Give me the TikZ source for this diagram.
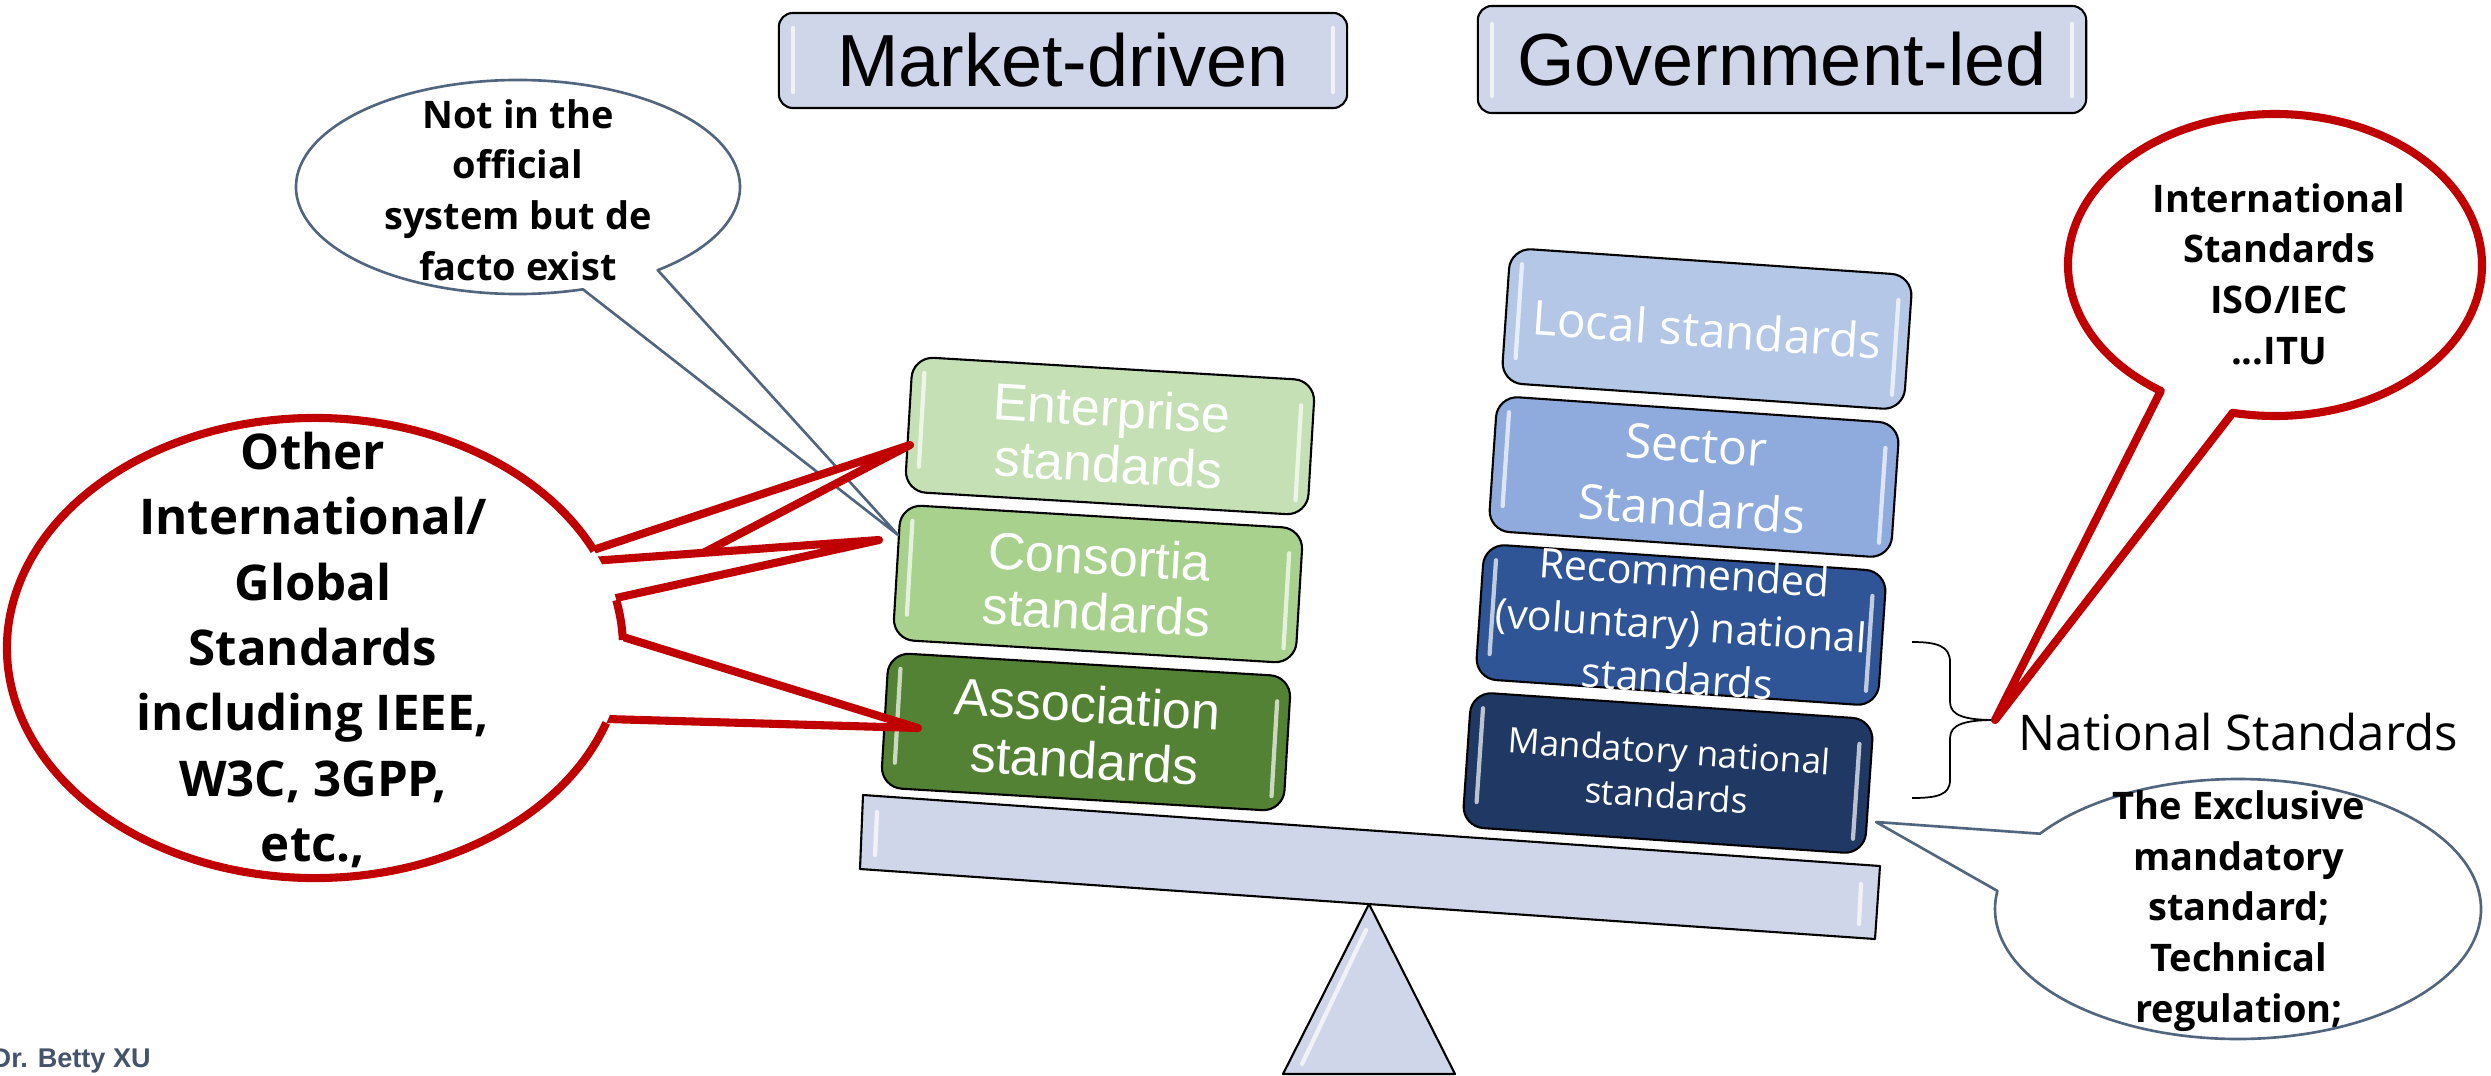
\documentclass[tikz,border=0pt]{standalone}
\usepackage{fontspec}
\setmainfont{Liberation Sans}
\newfontfamily\osans{Open Sans}
\definecolor{lav}{HTML}{D0D6EA}
\definecolor{entg}{HTML}{C5E0B4}
\definecolor{cong}{HTML}{A9D18E}
\definecolor{assg}{HTML}{548235}
\definecolor{locb}{HTML}{B4C7E7}
\definecolor{secb}{HTML}{8FAADC}
\definecolor{recb}{HTML}{2F5597}
\definecolor{manb}{HTML}{203864}
\definecolor{calred}{HTML}{C00000}
\definecolor{slate}{HTML}{52657F}
\definecolor{drtext}{HTML}{44546A}
\tikzset{
  stackbox/.style={draw=black, line width=0.6pt, rounded corners=6pt, minimum width=4.03cm, minimum height=1.35cm, inner sep=0pt},
  hdrbox/.style={draw=black, line width=0.6pt, fill=lav, rounded corners=4pt, inner sep=0pt, font=\fontsize{21}{24}\selectfont},
  gloss/.style={white, line width=1.2pt, line cap=round, opacity=0.7},
  boxtext/.style={text=white, align=center, inner sep=0pt},
  redline/.style={draw=calred, line width=2.3pt, line join=round},
  redco/.style={redline, fill=white},
  grayco/.style={draw=slate, line width=0.75pt, fill=white, line join=round},
  cotext/.style={align=center, inner sep=0pt, font=\osans\bfseries\fontsize{10.8}{14.4}\selectfont},
}
\newcommand\stackitem[7]{%
  \begin{scope}[shift={(#2,#3)}, rotate=#4, transform shape]
    \node[stackbox, fill=#5] (#1) at (0,0) {};
    \draw[gloss] (-189,-52) -- (-189,42);
    \draw[gloss] (189,-42) -- (189,53);
    \node[boxtext, font={#6}] (#1-t) at (0,0) {#7};
  \end{scope}}
\begin{document}
\begin{tikzpicture}[x=0.01cm, y=-0.01cm]
\useasboundingbox (0,0) rectangle (2491,1076);

% header boxes
\node[hdrbox, minimum width=5.68cm, minimum height=0.95cm] (mkt) at (1063,60.5) {Market-driven};
\node[hdrbox, minimum width=6.08cm, minimum height=1.07cm] (gov) at (1782,59.5) {Government-led};
\draw[gloss] (793,28) -- (793,92);
\draw[gloss] (1333,28) -- (1333,92);
\draw[gloss] (1492,24) -- (1492,96);
\draw[gloss] (2072,24) -- (2072,96);

% beam and fulcrum
\draw[line width=0.6pt, fill=lav, line join=round] (863,795) -- (1880,866) -- (1875,939) -- (860,869) -- cycle;
\draw[gloss] (877,812) -- (875,855);
\draw[gloss] (1861,884) -- (1859,924);
\draw[line width=0.6pt, fill=lav, line join=round] (1369,904) -- (1455,1074) -- (1283,1074) -- cycle;
\draw[gloss] (1366,930) -- (1302,1064);

% stacks
\stackitem{ent}{1110}{436}{-3.4}{entg}{\fontsize{14.8}{15.9}\selectfont}{Enterprise\\standards}
\stackitem{con}{1098}{584}{-3.4}{cong}{\fontsize{14.8}{15.9}\selectfont}{Consortia\\standards}
\stackitem{ass}{1086}{732}{-3.4}{assg}{\fontsize{14.8}{15.9}\selectfont}{Association\\standards}
\stackitem{loc}{1707}{329}{-3.9}{locb}{\osans\fontsize{13.6}{18}\selectfont}{Local standards}
\stackitem{sec}{1694}{477}{-3.9}{secb}{\osans\fontsize{13.7}{18.2}\selectfont}{Sector\\Standards}
\stackitem{rec}{1681}{625}{-3.9}{recb}{\osans\fontsize{11.7}{15.1}\selectfont}{Recommended\\(voluntary) national\\standards}
\stackitem{man}{1668}{773}{-3.9}{manb}{\osans\fontsize{10}{12.7}\selectfont}{Mandatory national\\standards}

% brace and label
\draw[line width=0.5pt] (1912,642) .. controls (1937,642) and (1950,646) .. (1950,662) -- (1950,702)
  .. controls (1950,716) and (1966,720) .. (1995,720)
  .. controls (1966,720) and (1950,724) .. (1950,738) -- (1950,780)
  .. controls (1950,795) and (1937,798) .. (1912,798);
\coordinate (bracetip) at (1995,720);
\node[anchor=base west, inner sep=0pt, font=\osans\fontsize{14}{16}\selectfont] (natl) at (2018,750) {National Standards};

% gray callout left
\coordinate (tipg) at (898,535);
\draw[grayco] (tipg) -- ([shift={(73:222 and 107)}]518,187) arc[start angle=73, end angle=411, x radius=222, y radius=107] -- cycle;
\node[cotext] (gtxt) at (518,190) {Not in the\\official\\system but de\\facto exist};

% red callout right
\draw[redco] (bracetip) -- ([shift={(123.5:207 and 151)}]2275,265) arc[start angle=123.5, end angle=461.8, x radius=207, y radius=151] -- cycle;
\node[cotext] (rtxt) at (2279,274) {International\\Standards\\ISO/IEC\\...ITU};

% gray callout bottom right
\coordinate (tipm) at (1876,822);
\draw[grayco] (tipm) -- ([shift={(215.4:243 and 130)}]2238,909) arc[start angle=215.4, end angle=548, x radius=243, y radius=130] -- cycle;
\node[cotext] (btxt) at (2239,911) {The Exclusive\\mandatory\\standard;\\Technical\\regulation;};

% red callout left (three tails)
\coordinate (tipA) at (910,445);
\coordinate (tipB) at (879,540);
\coordinate (tipC) at (918,728);
\draw[redco] (575,556) -- (tipA) -- (590,612) -- cycle;
\draw[redco] (580.7,561.8) -- (tipB) -- (596.5,602.3) -- cycle;
\draw[redco] (603.9,631.1) -- (tipC) -- (586,718.4) -- cycle;
\fill[white] (315,648) ellipse [x radius=308, y radius=230];
\draw[redline] ([shift={(19:308 and 230)}]315,648) arc[start angle=19, end angle=335, x radius=308, y radius=230];
\draw[redline] ([shift={(-12:308 and 230)}]315,648) arc[start angle=-12, end angle=-2, x radius=308, y radius=230];
\node[cotext, font=\osans\bfseries\fontsize{14}{18.6}\selectfont] (ltxt) at (313,650) {Other\\International/\\Global\\Standards\\including IEEE,\\W3C, 3GPP,\\etc.,};

% author
\node[anchor=base west, inner sep=0pt, font=\bfseries\fontsize{7.7}{9}\selectfont, text=drtext] (auth) at (-9,1067) {Dr. Betty XU};
\end{tikzpicture}
\end{document}
